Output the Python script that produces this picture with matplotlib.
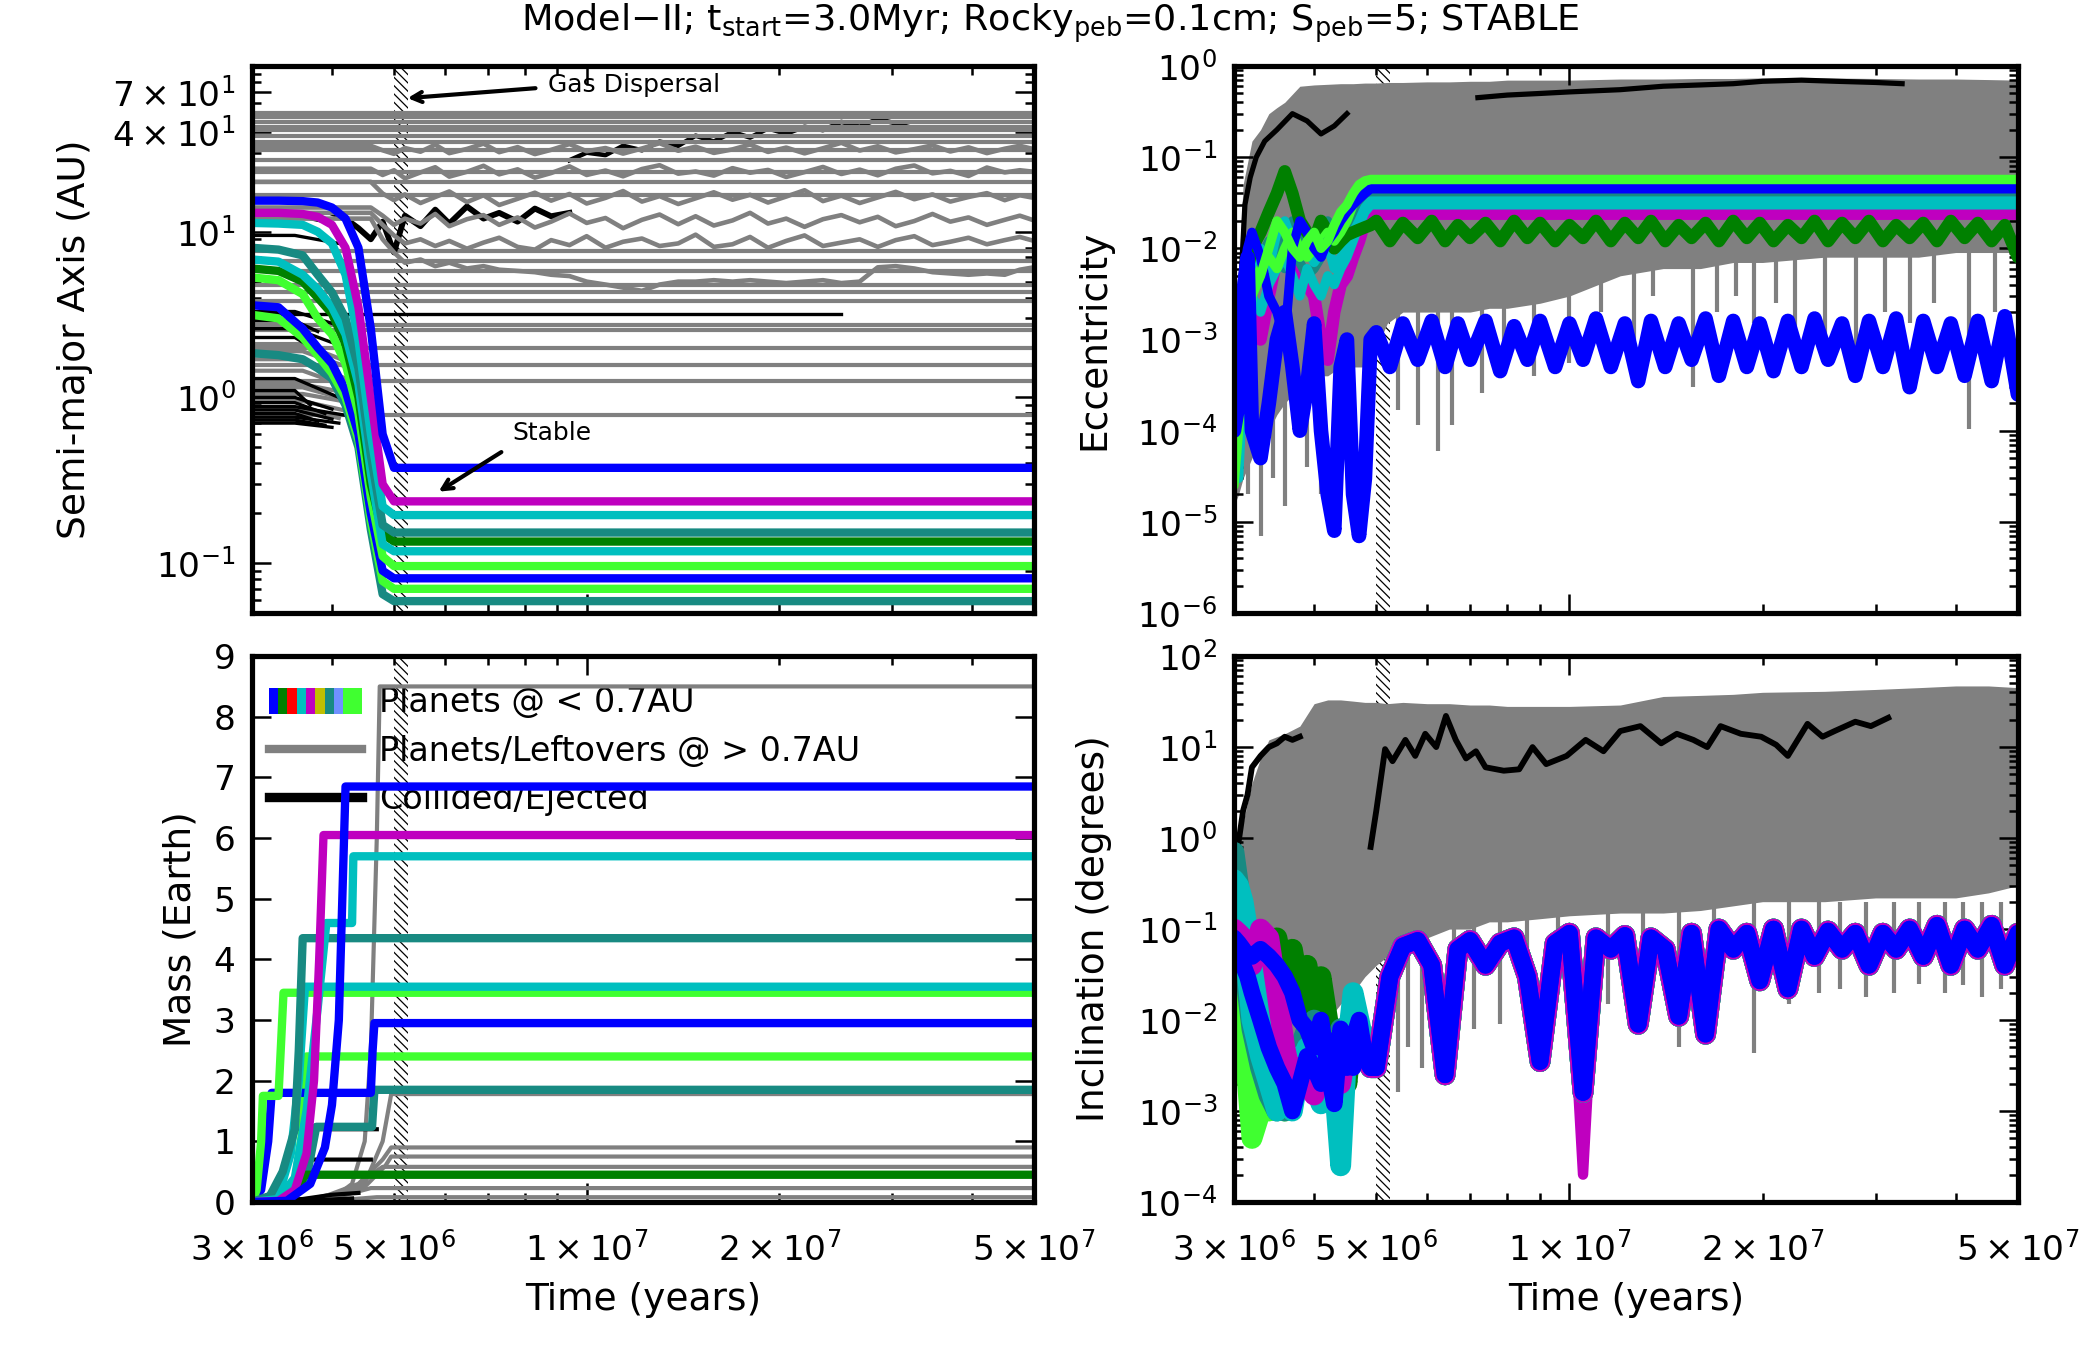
import numpy as np
import matplotlib
matplotlib.use("Agg")
import matplotlib.pyplot as plt
from matplotlib.legend_handler import HandlerBase
from matplotlib.patches import Rectangle
from matplotlib.lines import Line2D

# ------------------------------------------------------------------ data
# all times are in Myr, converted to years when drawn
PLANET_COLORS = ['#0000ff', '#bf00bf', '#00bfbf', '#188a82', '#00bfbf',
                 '#008000', '#40ff30', '#0000ff', '#40ff30', '#188a82']
STRIP_COLORS = ['#0000ff', '#008000', '#ff0000', '#00bfbf', '#bf00bf',
                '#bfbf00', '#188a82', '#7090ff', '#40ff30', '#40ff30']

# semi-major axis of the surviving inner planets (AU)
T_MIG = [3.0, 3.3, 3.6, 3.8, 4.0, 4.2, 4.4, 4.6, 4.8, 5.0, 50.0]
A_PLANETS = [
    [15.4, 15.4, 15.3, 15.0, 14.0, 12.0, 8.0, 2.6, 0.6, 0.376, 0.376],
    [13.0, 13.0, 12.8, 12.3, 11.0, 8.0, 3.5, 1.0, 0.3, 0.236, 0.236],
    [11.3, 11.2, 11.0, 10.0, 8.5, 5.5, 2.2, 0.6, 0.22, 0.195, 0.195],
    [8.0, 7.8, 7.2, 5.5, 4.3, 3.0, 1.5, 0.45, 0.17, 0.153, 0.153],
    [6.8, 6.6, 5.5, 4.5, 3.5, 2.4, 1.2, 0.35, 0.13, 0.118, 0.118],
    [6.0, 5.8, 5.0, 4.0, 3.2, 2.1, 1.0, 0.3, 0.15, 0.135, 0.135],
    [5.3, 5.1, 4.2, 3.0, 2.4, 1.6, 0.8, 0.25, 0.11, 0.096, 0.096],
    [3.6, 3.5, 2.6, 2.0, 1.6, 1.1, 0.6, 0.2, 0.09, 0.081, 0.081],
    [3.15, 3.0, 2.3, 1.8, 1.4, 1.0, 0.55, 0.18, 0.078, 0.070, 0.070],
    [1.85, 1.8, 1.7, 1.5, 1.3, 0.9, 0.5, 0.16, 0.065, 0.059, 0.059],
]

# grey bodies beyond 0.7 AU that keep a fixed orbit (AU)
A_GREY_FLAT = [52, 49, 46, 43, 41, 38, 35, 31, 27, 23, 20, 16.7, 7.7, 6.7,
               5.8, 4.8, 4.3, 3.8, 2.75, 2.57, 2.0, 1.58, 1.26, 0.78]
# grey bodies absorbed early: start AU, end AU, end time
A_GREY_SHORT_START = [0.95, 1.05, 1.15, 1.2, 1.45, 1.7, 1.9, 2.1, 0.85]
A_GREY_SHORT_END = [0.8, 0.9, 0.95, 1.0, 1.1, 1.3, 1.4, 1.6, 0.75]
A_GREY_SHORT_TEND = [4.4, 4.5, 4.3, 4.6, 4.4, 4.2, 4.5, 4.3, 4.1]
# collided bodies
A_BLACK_SHORT_START = [0.70, 0.73, 0.76, 0.80, 0.84, 0.88, 0.93, 1.0, 1.1,
                       1.3, 2.3, 2.6, 2.9, 3.3, 12.5, 9.5]
A_BLACK_SHORT_END = [0.66, 0.68, 0.70, 0.72, 0.74, 0.78, 0.80, 0.85, 0.90,
                     1.0, 1.8, 2.0, 2.5, 2.8, 11.5, 8.5]
A_BLACK_SHORT_TEND = [4.0, 3.9, 4.1, 3.8, 4.0, 4.2, 3.9, 4.0, 3.7, 4.1, 3.9,
                      4.2, 3.8, 4.0, 3.9, 4.1]
A_BLACK_FLAT = 3.2
A_BLACK_FLAT_TEND = 25.0

# scattered grey bodies (AU)
T_A = [4.6, 4.8, 5.0, 5.2, 5.5, 5.8, 6.1, 6.5, 6.9, 7.3,
       7.8, 8.3, 8.8, 9.4, 10.0, 10.7, 11.4, 12.2, 13.0, 13.9,
       14.8, 15.8, 16.9, 18.0, 19.2, 20.5, 21.9, 23.4, 25.0, 26.7,
       28.5, 30.4, 32.5, 34.7, 37.0, 39.5, 42.2, 45.0, 47.5, 50.0]
A_GREY_NOISY = [
    [12, 9, 7.5, 6.5, 6.8, 6.2, 6.5, 6.0, 6.2, 5.9,
     5.8, 5.7, 5.5, 5.4, 5.0, 4.8, 4.6, 4.4, 4.8, 5.0,
     5.0, 5.1, 5.0, 5.1, 5.0, 4.9, 5.0, 5.1, 4.9, 5.0,
     6.1, 6.2, 6.0, 5.7, 5.6, 5.5, 5.6, 5.5, 5.9, 6.1],
    [13, 11, 9.5, 8.5, 9.0, 8.2, 8.8, 7.9, 8.6, 9.2,
     8.1, 7.8, 8.9, 8.3, 9.4, 8.0, 8.7, 9.1, 8.2, 8.5,
     9.6, 8.1, 8.4, 9.3, 8.0, 8.8, 9.5, 8.2, 8.6, 9.0,
     8.1, 8.9, 9.4, 8.3, 8.7, 9.2, 8.4, 8.9, 9.3, 8.8],
    [14, 12.5, 11.0, 12.0, 11.2, 12.8, 10.8, 11.9, 12.6, 11.0,
     12.2, 10.6, 11.5, 12.9, 11.3, 12.1, 10.5, 11.8, 12.7, 11.1,
     12.4, 10.9, 11.7, 13.0, 11.2, 12.0, 10.7, 11.9, 12.6, 11.4,
     12.3, 10.8, 11.6, 12.8, 11.5, 12.2, 11.0, 11.8, 12.5, 11.7],
    [20, 17, 15.5, 16.8, 14.9, 16.2, 17.5, 15.1, 16.6, 14.5,
     15.8, 17.2, 15.4, 16.9, 14.8, 16.0, 17.6, 15.2, 16.4, 14.7,
     15.9, 17.3, 15.6, 16.7, 15.0, 16.3, 17.8, 15.3, 16.5, 14.9,
     16.1, 17.4, 15.7, 16.8, 15.2, 16.2, 17.1, 15.5, 16.6, 16.0],
    [24, 22, 23.5, 21, 22.8, 24.5, 21.5, 23, 25, 22.2,
     23.8, 21.2, 22.6, 24.8, 22.0, 23.4, 21.6, 23.9, 25.2, 22.4,
     23.1, 21.8, 24.2, 22.7, 23.6, 21.4, 22.9, 24.6, 22.3, 23.7,
     21.9, 24.0, 25.1, 22.5, 23.3, 21.7, 24.4, 22.8, 23.5, 23.0],
    [33, 31, 29.5, 32, 30.4, 33.5, 29.8, 31.6, 34, 30.2,
     32.4, 29.4, 31.2, 33.8, 30.6, 32.0, 29.6, 31.8, 34.2, 30.8,
     32.6, 29.9, 31.4, 33.6, 30.3, 32.2, 29.7, 31.9, 34.4, 30.9,
     32.8, 30.1, 31.5, 33.2, 30.5, 32.3, 29.8, 31.7, 33.0, 31.5],
]
# collided bodies among the scattered ones (AU)
T_B = [4.0, 4.2, 4.4, 4.6, 4.8, 5.0, 5.2, 5.5, 5.8, 6.1,
       6.5, 6.9, 7.3, 7.8, 8.3, 8.8, 9.4]
A_BLACK_NOISY = [13, 12, 10.5, 9.0, 11.5, 7.5, 12.5, 10.8, 13.6, 11.2,
                 14.2, 12.0, 13.0, 11.5, 13.8, 12.4, 13.0]
T_B2 = [9.4, 10.0, 10.7, 11.4, 12.2, 13.0, 13.9, 14.8, 15.8, 16.9,
        18.0, 19.2, 20.5, 21.9, 23.4, 25.0, 26.7, 28.5, 30.4, 32.5]
A_BLACK_NOISY2 = [27, 30, 29, 33, 31, 35, 33, 38, 35, 40,
                  37, 42, 39, 43, 41, 46, 43, 48, 45, 42]

# masses (Earth masses)
M_T = [
    [3.0, 3.4, 3.7, 3.9, 4.0, 4.1, 4.2, 50],
    [3.0, 3.3, 3.5, 3.65, 3.75, 3.82, 3.88, 50],
    [3.0, 3.3, 3.5, 3.65, 3.8, 3.92, 4.3, 4.32, 50],
    [3.0, 3.2, 3.35, 3.5, 3.55, 3.6, 50],
    [3.0, 3.3, 3.45, 3.55, 3.63, 50],
    [3.0, 3.4, 3.55, 3.62, 50],
    [3.0, 3.05, 3.1, 3.12, 3.3, 3.33, 3.36, 50],
    [3.0, 3.1, 3.18, 3.22, 4.6, 4.63, 4.66, 50],
    [3.0, 3.3, 3.5, 3.6, 3.65, 50],
    [3.0, 3.4, 3.65, 3.78, 4.62, 4.66, 50],
]
M_VAL = [
    [0, 0.02, 0.3, 0.9, 1.6, 3.0, 6.85, 6.85],
    [0, 0.02, 0.2, 0.8, 2.0, 4.0, 6.05, 6.05],
    [0, 0.05, 0.4, 1.5, 3.2, 4.6, 4.6, 5.7, 5.7],
    [0, 0.1, 0.5, 1.2, 2.5, 4.35, 4.35],
    [0, 0.1, 0.8, 2.0, 3.55, 3.55],
    [0, 0.05, 0.2, 0.45, 0.45],
    [0, 0.2, 1.0, 1.75, 1.75, 2.6, 3.45, 3.45],
    [0, 0.2, 1.0, 1.8, 1.8, 2.5, 2.95, 2.95],
    [0, 0.05, 0.3, 1.2, 2.4, 2.4],
    [0, 0.05, 0.4, 1.24, 1.24, 1.85, 1.85],
]
GM_T = [[3.0, 4.0, 4.3, 4.5, 4.6, 4.7, 4.75, 50],
        [3.0, 4.0, 4.5, 4.8, 4.95, 50],
        [3.0, 3.8, 4.4, 4.8, 4.95, 50],
        [3.0, 3.9, 4.5, 4.85, 4.95, 50],
        [3.0, 3.7, 4.3, 4.6, 4.8, 50],
        [3.0, 3.5, 4.2, 4.6, 50],
        [3.0, 4.0, 4.7, 50]]
GM_VAL = [[0, 0.05, 0.3, 1.0, 2.5, 6.0, 8.5, 8.5],
          [0, 0.05, 0.3, 1.0, 1.78, 1.78],
          [0, 0.05, 0.3, 0.7, 0.9, 0.9],
          [0, 0.05, 0.25, 0.6, 0.75, 0.75],
          [0, 0.05, 0.2, 0.45, 0.58, 0.58],
          [0, 0.03, 0.12, 0.23, 0.23],
          [0, 0.02, 0.08, 0.08]]
BM_T = [[3.0, 3.3, 3.45, 3.5, 4.7], [3.0, 3.4, 3.55, 3.6, 4.6],
        [3.0, 3.6, 4.0, 4.4], [3.0, 3.8, 4.3]]
BM_VAL = [[0, 0.2, 0.8, 1.2, 1.2], [0, 0.1, 0.5, 0.7, 0.7],
          [0, 0.05, 0.12, 0.15], [0, 0.03, 0.06]]

# eccentricity / inclination envelopes of the grey bodies
T_ENV = [3.0, 3.05, 3.1, 3.2, 3.3, 3.4, 3.5, 3.6, 3.8, 4.0,
         4.2, 4.4, 4.6, 4.8, 5.0, 5.2, 5.5, 6.0, 6.5, 7.0,
         7.5, 8.0, 9.0, 10, 12, 14, 16, 18, 20, 25,
         30, 35, 40, 45, 50]
E_GREY_HI = [2e-3, 5e-3, 0.05, 0.15, 0.2, 0.3, 0.35, 0.4, 0.6, 0.62,
             0.63, 0.64, 0.64, 0.65, 0.65, 0.66, 0.66, 0.67, 0.67, 0.68,
             0.68, 0.7, 0.7, 0.7, 0.72, 0.72, 0.73, 0.73, 0.74, 0.74,
             0.73, 0.72, 0.72, 0.71, 0.7]
E_GREY_LO = [1.5e-5, 2e-5, 3e-5, 5e-5, 8e-5, 1e-4, 1.5e-4, 2e-4, 3e-4, 4e-4,
             4e-4, 5e-4, 5e-4, 5e-4, 8e-4, 1.5e-3, 2e-3, 2e-3, 2e-3, 2e-3,
             2.2e-3, 2.2e-3, 2.5e-3, 3e-3, 5e-3, 6e-3, 6e-3, 7e-3, 7e-3, 8e-3,
             8e-3, 8e-3, 9e-3, 9e-3, 9e-3]
E_SPIKE_T = [3.15, 3.3, 3.45, 3.6, 3.9, 4.1, 4.35, 4.55,
             5.4, 5.8, 6.25, 6.55, 7.3, 7.9, 8.8, 10.0, 11.2, 12.6,
             13.5, 15.6, 17.0, 18.2, 19.4, 21.0, 22.5, 25.0, 28.0, 31.0,
             34.0, 37.0, 42.0, 46.0]
E_SPIKE_LO = [2e-5, 7e-6, 3e-5, 1.5e-5, 4e-5, 2e-5, 5e-5, 3e-5,
              1.7e-4, 1.15e-4, 6e-5, 1.15e-4, 2.6e-4, 6e-4, 4e-4, 5.5e-4, 2e-3, 1e-3,
              3e-3, 3e-4, 2e-3, 3e-3, 1.5e-3, 2.5e-3, 1.2e-3, 8e-4, 4.9e-4, 2e-3,
              1.5e-3, 2.5e-3, 1.05e-4, 2e-3]
I_GREY_HI = [0.9, 1.0, 1.5, 4.0, 7.5, 12, 13, 14, 17, 30,
             33, 33, 32, 31, 31, 30, 31, 30, 30, 29,
             29, 28, 28, 28, 29, 36, 37, 38, 40, 41,
             43, 45, 47, 47, 45]
I_GREY_LO = [5e-3, 4e-3, 3e-3, 3e-3, 3e-3, 4e-3, 5e-3, 5e-3, 8e-3, 1e-2,
             1e-2, 1.5e-2, 2e-2, 3e-2, 4e-2, 5e-2, 6e-2, 8e-2, 0.1, 0.1,
             0.12, 0.12, 0.13, 0.14, 0.15, 0.15, 0.16, 0.18, 0.2, 0.2,
             0.22, 0.22, 0.22, 0.25, 0.3]
I_SPIKE_T = [5.4, 5.6, 5.9, 6.6, 7.1, 7.8, 8.6, 9.6, 11.5, 13.0,
             14.8, 16.8, 19.4, 22.0, 24.5, 26.4, 29.0, 32.0, 35.0, 38.5,
             41.0, 44.0, 47.0]
I_SPIKE_LO = [1.6e-3, 5e-3, 3e-3, 1e-2, 8e-3, 9e-3, 1.1e-2, 2e-2, 1.5e-2, 1.2e-2,
              5e-3, 1e-2, 4.4e-3, 1.5e-2, 2e-2, 2.2e-2, 1.8e-2, 2e-2, 2.5e-2, 2e-2,
              2.4e-2, 1.8e-2, 2.2e-2]

# collided bodies in e and i
BE_T = [[3.05, 3.08, 3.12, 3.18, 3.25, 3.35, 3.5, 3.7, 3.9, 4.1, 4.3, 4.5],
        [7.2, 8, 9, 10, 12, 14, 16, 18, 20, 23, 26, 30, 33],
        [12, 13, 14, 15, 16],
        [4.3, 4.6, 5.0, 5.5, 6.0, 6.5, 7.0, 7.5, 8.0],
        [41, 42.5, 44]]
BE_VAL = [[1e-3, 5e-3, 0.03, 0.06, 0.1, 0.15, 0.2, 0.3, 0.25, 0.18, 0.22, 0.3],
          [0.45, 0.48, 0.5, 0.52, 0.55, 0.6, 0.62, 0.64, 0.68, 0.7, 0.68, 0.66, 0.64],
          [0.3, 0.26, 0.28, 0.24, 0.27],
          [0.08, 0.15, 0.25, 0.3, 0.2, 0.28, 0.25, 0.2, 0.22],
          [0.2, 0.15, 0.22]]
BI_T = [[3.0, 3.05, 3.1, 3.15, 3.2, 3.3, 3.4, 3.5, 3.6, 3.7, 3.8],
        [4.9, 5.0, 5.16, 5.3, 5.55, 5.75, 5.96, 6.2, 6.42, 6.65,
         6.9, 7.15, 7.4, 7.9, 8.35, 8.76, 9.2, 9.9, 10.6, 11.3,
         12.0, 12.9, 13.9, 14.7, 15.6, 16.4, 17.2, 18.5, 19.9, 21.0,
         21.9, 23.5, 24.8, 25.9, 27.9, 29.5, 31.4]]
BI_VAL = [[0.5, 0.9, 2, 3, 6, 8, 10, 11, 13, 12, 13],
          [0.8, 2.0, 9.5, 7, 12, 8, 14, 10, 22, 12,
           7.5, 9, 6, 5.5, 5.7, 10, 6.5, 8, 12, 9,
           15, 17, 11, 14, 12, 10, 17, 14, 13, 10.6,
           8, 18, 13, 15, 19, 17, 21]]
BI3_T = [4.0, 4.2, 4.4, 4.6, 4.8, 5.0, 5.5, 6.0, 6.5, 7.0,
         7.5, 8.0, 9.0, 10, 11, 12, 14, 16, 18, 20]
BI3_VAL = [0.5, 1, 0.3, 0.2, 0.5, 1.5, 2, 3, 0.8, 2.5,
           1.5, 3, 2, 1, 2, 3, 2.5, 4, 3, 5]

# planets: e and i before gas dispersal
T_PRE = [3.0, 3.05, 3.1, 3.15, 3.2, 3.3, 3.4, 3.5, 3.6, 3.7, 3.8,
         3.9, 4.0, 4.1, 4.2, 4.3, 4.4, 4.5, 4.6, 4.7, 4.8, 4.9]
E_PRE = [
    [1e-4, 2e-4, 3e-3, 8e-3, 1e-4, 5e-5, 2e-4, 1e-3, 2e-3, 5e-4, 1e-4,
     3e-4, 1.5e-3, 1e-4, 2e-5, 8e-6, 5e-4, 1e-3, 2e-5, 7e-6, 3e-5, 1e-3],
    [3e-4, 2e-4, 4e-4, 1e-3, 2e-3, 1e-3, 3e-3, 8e-3, 1e-2, 7e-3, 5e-3,
     4e-3, 3e-3, 1e-3, 6e-4, 2e-3, 4e-3, 5e-3, 8e-3, 1.2e-2, 2e-2, 2.4e-2],
    [1e-4, 3e-5, 3e-4, 2e-3, 4e-3, 1e-2, 6e-3, 1.5e-2, 2e-2, 1.2e-2, 8e-3,
     1e-2, 7e-3, 9e-3, 1.1e-2, 6e-3, 8e-3, 1e-2, 1.5e-2, 2e-2, 2.8e-2, 3.3e-2],
    [5e-5, 1e-4, 1e-3, 3e-3, 5e-3, 8e-3, 1.2e-2, 9e-3, 1.5e-2, 2e-2, 1.3e-2,
     1.5e-2, 1e-2, 1.4e-2, 2e-2, 1.2e-2, 1.5e-2, 1.8e-2, 2.2e-2, 2.8e-2, 3.3e-2, 3.7e-2],
    [3e-5, 8e-5, 5e-4, 1e-3, 3e-3, 2e-3, 4e-3, 6e-3, 8e-3, 5e-3, 3e-3,
     6e-3, 4e-3, 3e-3, 5e-3, 4e-3, 6e-3, 8e-3, 1.2e-2, 1.8e-2, 2.5e-2, 3e-2],
    [1e-4, 5e-4, 3e-3, 6e-3, 1e-2, 1.5e-2, 2.5e-2, 4e-2, 7e-2, 4e-2, 2e-2,
     1.5e-2, 1.2e-2, 2e-2, 1.5e-2, 1e-2, 1.2e-2, 1.4e-2, 1.5e-2, 1.6e-2, 1.7e-2, 1.8e-2],
    [2.5e-5, 1e-4, 5e-4, 1e-3, 3e-3, 5e-3, 1e-2, 2e-2, 1.5e-2, 1e-2, 8e-3,
     1.2e-2, 1.5e-2, 1e-2, 1.2e-2, 1.8e-2, 2.5e-2, 3e-2, 4e-2, 5e-2, 5.5e-2, 5.7e-2],
    [1e-3, 2e-3, 5e-3, 1e-2, 1.5e-2, 8e-3, 3e-3, 2e-3, 1e-3, 1e-2, 2e-2,
     1.5e-2, 1e-2, 8e-3, 1.2e-2, 1.5e-2, 2e-2, 2.5e-2, 3e-2, 3.5e-2, 4e-2, 4.5e-2],
    [5e-5, 2e-4, 1e-3, 2e-3, 4e-3, 6e-3, 8e-3, 6e-3, 1e-2, 1.5e-2, 1e-2,
     8e-3, 1e-2, 1.2e-2, 1.5e-2, 1.2e-2, 1.5e-2, 2e-2, 3e-2, 4e-2, 4.8e-2, 5.2e-2],
    [2e-4, 5e-4, 2e-3, 5e-3, 3e-3, 6e-3, 5e-3, 8e-3, 6e-3, 1e-2, 7e-3,
     5e-3, 6e-3, 8e-3, 1e-2, 1.2e-2, 1.5e-2, 2e-2, 2.5e-2, 3e-2, 3.3e-2, 3.5e-2],
]
E_FINAL = [1e-3, 0.024, 0.033, 0.037, 0.030, 0.018, 0.057, 0.045, 0.052, 0.035]
I_PRE = [
    [0.08, 0.07, 0.06, 0.05, 0.05, 0.06, 0.05, 0.04, 0.03, 0.02, 0.01,
     8e-3, 5e-3, 1e-2, 3e-3, 1.2e-3, 8e-3, 3e-3, 6e-3, 1e-2, 4e-3, 3e-3],
    [0.1, 0.09, 0.08, 0.06, 0.04, 0.1, 0.08, 0.02, 5e-3, 2e-3, 3e-3,
     2e-3, 1.5e-3, 3e-3, 2e-3, 4e-3, 2e-3, 5e-3, 4e-3, 6e-3, 4e-3, 3e-3],
    [0.35, 0.3, 0.2, 0.1, 0.05, 0.02, 0.01, 5e-3, 2e-3, 1e-3, 3e-3,
     5e-3, 4e-3, 3e-3, 3e-3, 2e-3, 2.5e-4, 5e-3, 2e-2, 1e-2, 5e-3, 3e-3],
    [0.7, 0.3, 0.1, 0.03, 0.01, 5e-3, 3e-3, 1.5e-3, 1e-3, 3e-3, 5e-3,
     8e-3, 1e-2, 5e-3, 3e-3, 5e-3, 8e-3, 6e-3, 4e-3, 5e-3, 4e-3, 3e-3],
    [0.2, 0.15, 0.08, 0.03, 0.01, 4e-3, 2e-3, 1e-3, 2e-3, 3e-3, 4e-3,
     3e-3, 2e-3, 1.2e-3, 3e-3, 5e-3, 4e-3, 6e-3, 1e-2, 6e-3, 4e-3, 3e-3],
    [0.1, 0.08, 0.05, 0.04, 0.03, 0.02, 0.05, 0.08, 0.03, 0.06, 0.02,
     0.04, 0.01, 0.03, 0.01, 5e-3, 8e-3, 2e-3, 1e-2, 6e-3, 4e-3, 3e-3],
    [0.02, 0.01, 5e-3, 2e-3, 5e-4, 1e-3, 3e-3, 2e-3, 1e-3, 3e-3, 5e-3,
     4e-3, 2e-3, 3e-3, 5e-3, 4e-3, 3e-3, 5e-3, 4e-3, 5e-3, 4e-3, 3e-3],
    [0.06, 0.05, 0.04, 0.03, 0.02, 0.01, 5e-3, 3e-3, 2e-3, 1e-3, 2e-3,
     4e-3, 3e-3, 2e-3, 4e-3, 6e-3, 5e-3, 4e-3, 3e-3, 5e-3, 4e-3, 3e-3],
    [0.03, 0.02, 0.01, 5e-3, 2e-3, 3e-3, 1e-3, 2e-3, 4e-3, 3e-3, 2e-3,
     4e-3, 5e-3, 3e-3, 4e-3, 6e-3, 5e-3, 4e-3, 6e-3, 5e-3, 4e-3, 3e-3],
    [0.5, 0.2, 0.08, 0.02, 8e-3, 3e-3, 1.5e-3, 1e-3, 2e-3, 4e-3, 3e-3,
     2e-3, 5e-3, 4e-3, 3e-3, 5e-3, 4e-3, 6e-3, 5e-3, 4e-3, 4e-3, 3e-3],
]

# after gas dispersal
T_POST = [5.0, 5.25, 5.5, 5.8, 6.1, 6.4, 6.7, 7.0, 7.4, 7.8,
          8.2, 8.6, 9.0, 9.5, 10.0, 10.5, 11.0, 11.6, 12.2, 12.8,
          13.4, 14.1, 14.8, 15.5, 16.3, 17.1, 18.0, 18.9, 19.8, 20.8,
          21.9, 23.0, 24.1, 25.3, 26.6, 27.9, 29.3, 30.8, 32.3, 33.9,
          35.6, 37.4, 39.3, 41.3, 43.3, 45.5, 47.7, 50.0]
E_BLUE_POST = [1.2e-3, 5e-4, 1.5e-3, 6e-4, 1.6e-3, 5e-4, 1.5e-3, 6e-4, 1.6e-3, 4.5e-4,
               1.4e-3, 6e-4, 1.6e-3, 5e-4, 1.5e-3, 6e-4, 1.7e-3, 5e-4, 1.5e-3, 3.5e-4,
               1.6e-3, 5e-4, 1.5e-3, 6e-4, 1.7e-3, 4e-4, 1.6e-3, 5e-4, 1.5e-3, 4.5e-4,
               1.6e-3, 5e-4, 1.7e-3, 6e-4, 1.5e-3, 4e-4, 1.6e-3, 5e-4, 1.7e-3, 3e-4,
               1.6e-3, 5e-4, 1.5e-3, 4e-4, 1.6e-3, 3.5e-4, 1.8e-3, 2.5e-4]
E_GREEN_POST = [0.02, 0.012, 0.019, 0.013, 0.02, 0.012, 0.018, 0.013, 0.019, 0.012,
                0.02, 0.013, 0.019, 0.012, 0.018, 0.013, 0.02, 0.012, 0.019, 0.013,
                0.02, 0.012, 0.018, 0.013, 0.019, 0.012, 0.02, 0.013, 0.019, 0.012,
                0.018, 0.013, 0.02, 0.012, 0.019, 0.013, 0.02, 0.012, 0.018, 0.013,
                0.019, 0.012, 0.02, 0.013, 0.019, 0.012, 0.018, 0.008]
I_POST = [3e-3, 0.03, 0.065, 0.075, 0.04, 2.5e-3, 0.06, 0.075, 0.04, 0.07,
          0.08, 0.03, 3.5e-3, 0.07, 0.09, 1.6e-3, 0.08, 0.06, 0.085, 9e-3,
          0.08, 0.06, 0.011, 0.09, 7e-3, 0.1, 0.06, 0.09, 0.027, 0.1,
          0.022, 0.1, 0.05, 0.095, 0.06, 0.09, 0.04, 0.09, 0.06, 0.1,
          0.05, 0.11, 0.04, 0.1, 0.06, 0.11, 0.04, 0.09]
MAG_DIP_T = [10.0, 10.5, 11.0]
MAG_DIP_I = [0.09, 2e-4, 0.08]

GAS_START, GAS_END = 5.0, 5.25


def yr(v):
    return np.asarray(v, dtype=float) * 1e6


# ------------------------------------------------------------------ figure
fig = plt.figure(figsize=(14, 9), dpi=150)
ax_a = fig.add_axes([0.120, 0.5459, 0.3724, 0.4052])
ax_e = fig.add_axes([0.5876, 0.5459, 0.3733, 0.4052])
ax_m = fig.add_axes([0.120, 0.1096, 0.3724, 0.4044])
ax_i = fig.add_axes([0.5876, 0.1096, 0.3733, 0.4044])
plt.rcParams['hatch.linewidth'] = 0.6

x_minor = [3e6, 4e6, 5e6, 6e6, 7e6, 8e6, 9e6, 2e7, 3e7, 4e7, 5e7]
x_minor_lab = [r'$3\times10^{6}$', '', r'$5\times10^{6}$', '', '', '', '',
               r'$2\times10^{7}$', '', '', r'$5\times10^{7}$']

for ax in (ax_a, ax_e, ax_m, ax_i):
    ax.set_xscale('log')
    ax.set_xlim(3e6, 5e7)
    ax.set_xticks([1e7])
    ax.set_xticklabels([r'$1\times10^{7}$'])
    ax.set_xticks(x_minor, minor=True)
    ax.set_xticklabels(x_minor_lab, minor=True)
    ax.tick_params(which='both', direction='in', top=True, right=True,
                   labelsize=16.5, width=1.2, pad=8)
    ax.tick_params(axis='x', which='both', pad=14)
    ax.tick_params(which='major', length=9)
    ax.tick_params(which='minor', length=4.5)
    for s in ax.spines.values():
        s.set_linewidth(2.5)
    ax.axvspan(yr(GAS_START), yr(GAS_END), facecolor='none', edgecolor='k',
               hatch='\\\\\\\\\\\\', lw=0, zorder=0.5)

for ax in (ax_a, ax_e):
    ax.tick_params(which='both', labelbottom=False)

# --- semi-major axis
ax = ax_a
ax.set_yscale('log')
ax.set_ylim(0.05, 100)
ax.plot(yr(T_B2), A_BLACK_NOISY2, color='k', lw=2.2, zorder=1.5)
for lev in A_GREY_FLAT:
    ax.plot(yr([3.0, 50.0]), [lev, lev], color='grey', lw=2.0)
for s, e, te in zip(A_GREY_SHORT_START, A_GREY_SHORT_END, A_GREY_SHORT_TEND):
    ax.plot(yr([3.0, 3.6, te]), [s, s, e], color='grey', lw=2.0)
for s, e, te in zip(A_BLACK_SHORT_START, A_BLACK_SHORT_END, A_BLACK_SHORT_TEND):
    ax.plot(yr([3.0, 3.5, te]), [s, s, e], color='k', lw=1.6)
ax.plot(yr([3.0, A_BLACK_FLAT_TEND]), [A_BLACK_FLAT] * 2, color='k', lw=1.6)
ax.plot(yr(T_B), A_BLACK_NOISY, color='k', lw=2.8)
for g in A_GREY_NOISY:
    ax.plot(yr([3.0] + T_A), [g[0]] + g, color='grey', lw=2.2)
for k in range(len(A_PLANETS) - 1, -1, -1):
    ax.plot(yr(T_MIG), A_PLANETS[k], color=PLANET_COLORS[k], lw=4,
            solid_capstyle='round')
ax.set_yticks([0.1, 1, 10, 40, 70])
ax.set_yticklabels([r'$10^{-1}$', r'$10^{0}$', r'$10^{1}$',
                    r'$4\times10^{1}$', r'$7\times10^{1}$'])
a_minor = [0.06, 0.07, 0.08, 0.09, 0.2, 0.3, 0.4, 0.5, 0.6, 0.7, 0.8, 0.9,
           2, 3, 4, 5, 6, 7, 8, 9, 20, 30, 50, 60, 80, 90]
ax.set_yticks(a_minor, minor=True)
ax.set_yticklabels([''] * len(a_minor), minor=True)
ax.set_ylabel('Semi-major Axis (AU)', fontsize=18, labelpad=9)
ax.annotate('Gas Dispersal', xy=(5.25e6, 64), xytext=(8.7e6, 77),
            fontsize=12, ha='left', va='center',
            arrowprops=dict(arrowstyle='->', lw=2, color='k',
                            relpos=(0.0, 0.4), shrinkA=4, shrinkB=0))
ax.annotate('Stable', xy=(5.87e6, 0.27), xytext=(7.66e6, 0.61),
            fontsize=12, ha='left', va='center',
            arrowprops=dict(arrowstyle='->', lw=2, color='k',
                            relpos=(0.0, 0.0), shrinkA=4, shrinkB=0))

# --- eccentricity
ax = ax_e
ax.set_yscale('log')
ax.set_ylim(1e-6, 1)
for t, v in zip(BE_T[2:], BE_VAL[2:]):
    ax.plot(yr(t), v, color='k', lw=2, zorder=0.9)
ax.fill_between(yr(T_ENV), E_GREY_LO, E_GREY_HI, color='grey', lw=0, zorder=1)
ax.vlines(yr(E_SPIKE_T), E_SPIKE_LO, 1e-2, color='grey', lw=2, zorder=1.1)
for t, v in zip(BE_T[:2], BE_VAL[:2]):
    ax.plot(yr(t), v, color='k', lw=2.5)
order_e = [1, 9, 3, 2, 4, 5, 8, 7, 6, 0]
for k in order_e:
    if k == 0:
        post_t, post_v = T_POST, E_BLUE_POST
    elif k == 5:
        post_t, post_v = T_POST, E_GREEN_POST
    else:
        post_t, post_v = [5.0, 50.0], [E_FINAL[k], E_FINAL[k]]
    lw = {0: 7, 1: 6, 5: 6}.get(k, 4.5)
    ax.plot(yr(T_PRE + post_t), E_PRE[k] + post_v, color=PLANET_COLORS[k],
            lw=lw, solid_capstyle='round')
ax.set_ylabel('Eccentricity', fontsize=18, labelpad=12)

# --- mass
ax = ax_m
ax.set_ylim(0, 9)
ax.set_yticks(range(10))
for t, v in zip(GM_T, GM_VAL):
    ax.plot(yr(t), v, color='grey', lw=2.0)
for t, v in zip(BM_T, BM_VAL):
    ax.plot(yr(t), v, color='k', lw=2)
for k in range(len(M_T) - 1, -1, -1):
    ax.plot(yr(M_T[k]), M_VAL[k], color=PLANET_COLORS[k], lw=4)
ax.set_ylabel('Mass (Earth)', fontsize=18, labelpad=7)
ax.set_xlabel('Time (years)', fontsize=18, labelpad=7)


class StripHandler(HandlerBase):
    def create_artists(self, legend, orig_handle, xdescent, ydescent,
                       width, height, fontsize, trans):
        w = width / len(STRIP_COLORS)
        return [Rectangle((-xdescent + j * w, -ydescent - 0.05 * height), w,
                          1.1 * height, facecolor=c, edgecolor='none',
                          transform=trans)
                for j, c in enumerate(STRIP_COLORS)]


strip = Rectangle((0, 0), 1, 1)
handles = [strip, Line2D([], [], color='grey', lw=4),
           Line2D([], [], color='k', lw=4.5)]
labels = ['Planets @ < 0.7AU', 'Planets/Leftovers @ > 0.7AU', 'Collided/Ejected']
leg = ax.legend(handles, labels, handler_map={strip: StripHandler()},
                loc='upper left', bbox_to_anchor=(0.0, 0.975),
                frameon=False, fontsize=16,
                handlelength=2.8, handletextpad=0.5, labelspacing=0.46,
                borderpad=0.4, borderaxespad=0.1)
leg.set_zorder(1)

# --- inclination
ax = ax_i
ax.set_yscale('log')
ax.set_ylim(1e-4, 1e2)
ax.plot(yr(BI3_T), BI3_VAL, color='k', lw=2, zorder=0.9)
ax.fill_between(yr(T_ENV), I_GREY_LO, I_GREY_HI, color='grey', lw=0, zorder=1)
ax.vlines(yr(I_SPIKE_T), I_SPIKE_LO, 0.2, color='grey', lw=2, zorder=1.1)
for t, v in zip(BI_T, BI_VAL):
    ax.plot(yr(t), v, color='k', lw=2.8)
ax.plot(yr(MAG_DIP_T), MAG_DIP_I, color=PLANET_COLORS[1], lw=5,
        solid_capstyle='round')
order_i = [5, 6, 8, 3, 9, 2, 4, 1, 7, 0]
for k in order_i:
    lw = 8 if k in (0, 7) else 10
    ax.plot(yr(T_PRE + T_POST), I_PRE[k] + I_POST, color=PLANET_COLORS[k],
            lw=lw, solid_capstyle='round')
ax.set_ylabel('Inclination (degrees)', fontsize=18, labelpad=12)
ax.set_xlabel('Time (years)', fontsize=18, labelpad=7)

fig.text(0.5, 0.982,
         r'Model$-$II; t$_{\rm start}$=3.0Myr; Rocky$_{\rm peb}$=0.1cm; '
         r'S$_{\rm peb}$=5; STABLE', ha='center', va='center', fontsize=17.5)

fig.savefig('out.png', dpi=150)
